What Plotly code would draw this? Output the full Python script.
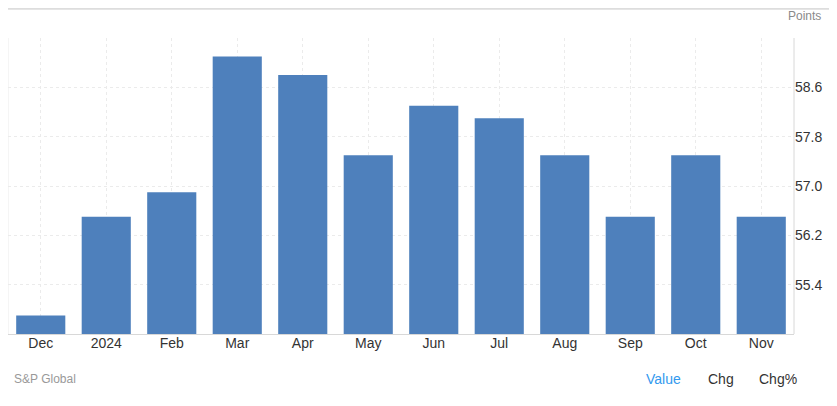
import plotly.graph_objects as go

categories = ["Dec", "2024", "Feb", "Mar", "Apr", "May", "Jun", "Jul", "Aug", "Sep", "Oct", "Nov"]
values = [54.9, 56.5, 56.9, 59.1, 58.8, 57.5, 58.3, 58.1, 57.5, 56.5, 57.5, 56.5]
y_ticks = [54.6, 55.4, 56.2, 57.0, 57.8, 58.6, 59.4]
y_labels = ["", "55.4", "56.2", "57.0", "57.8", "58.6", ""]

FONT = "Liberation Sans, Arial, sans-serif"

fig = go.Figure(go.Bar(
    x=categories, y=values,
    marker=dict(color="#4e80bc", line=dict(width=0)),
    hoverinfo="x+y",
))

fig.update_layout(
    width=829, height=398,
    margin=dict(l=0, r=43, t=30, b=72),
    paper_bgcolor="white", plot_bgcolor="white",
    bargap=0.25,
    showlegend=False,
    font=dict(family=FONT, size=14, color="#333333"),
    xaxis=dict(
        type="category",
        showgrid=True, gridcolor="#ebebeb", griddash="dot", gridwidth=1,
        showline=True, linecolor="#d8d8d8", linewidth=1,
        ticks="", ticklabelstandoff=-4,
        tickfont=dict(size=14, color="#333333"),
        fixedrange=True,
    ),
    yaxis=dict(
        side="right", range=[54.6, 59.4],
        tickvals=y_ticks, ticktext=y_labels,
        showgrid=True, gridcolor="#ebebeb", griddash="dot", gridwidth=1,
        zeroline=False, showline=False,
        ticks="", tickfont=dict(size=14, color="#333333"),
        fixedrange=True,
    ),
    shapes=[
        dict(type="line", xref="paper", yref="paper", x0=1, x1=1, y0=0, y1=1,
             line=dict(color="#d8d8d8", width=1)),
        dict(type="line", xref="paper", yref="paper", x0=0, x1=0, y0=0, y1=1,
             line=dict(color="#ececec", width=1)),
        dict(type="line", xref="paper", yref="paper", x0=-0.02, x1=1.06, y0=1.099, y1=1.099,
             line=dict(color="#dddddd", width=2)),
    ],
    annotations=[
        dict(text="Points", xref="paper", yref="paper", x=1.037, y=1.074,
             xanchor="right", yanchor="middle", showarrow=False,
             font=dict(size=12, color="#8a8a8a", family=FONT)),
        dict(text="S&P Global", xref="paper", yref="paper", x=0.005, y=-0.152,
             xanchor="left", yanchor="middle", showarrow=False,
             font=dict(size=12, color="#999999", family=FONT)),
        dict(text="Value", xref="paper", yref="paper", x=0.809, y=-0.152,
             xanchor="left", yanchor="middle", showarrow=False,
             font=dict(size=14, color="#3399ee", family=FONT)),
        dict(text="Chg", xref="paper", yref="paper", x=0.888, y=-0.152,
             xanchor="left", yanchor="middle", showarrow=False,
             font=dict(size=14, color="#333333", family=FONT)),
        dict(text="Chg%", xref="paper", yref="paper", x=0.953, y=-0.152,
             xanchor="left", yanchor="middle", showarrow=False,
             font=dict(size=14, color="#333333", family=FONT)),
    ],
)

fig.write_html("out.html", config={"displayModeBar": False})
